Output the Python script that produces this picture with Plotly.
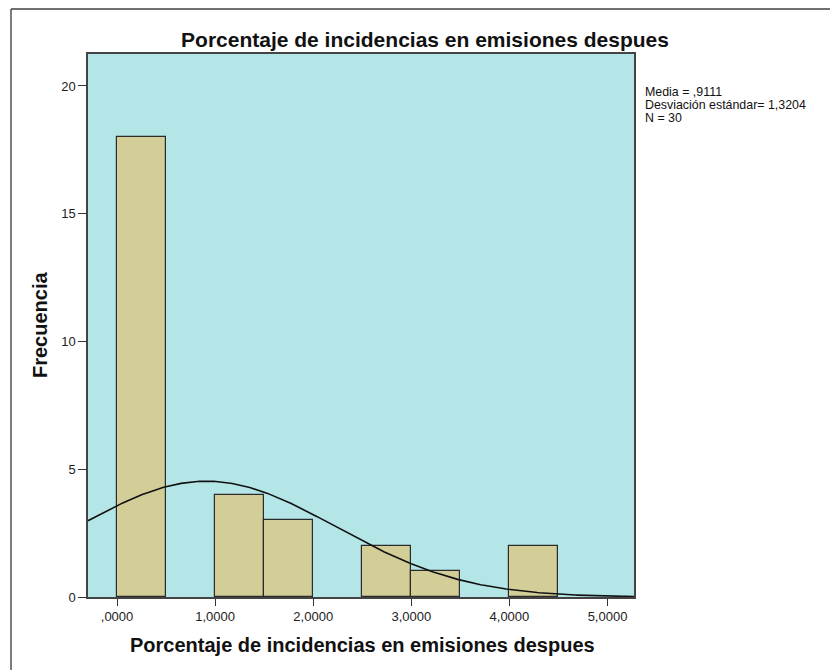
import numpy as np
import plotly.graph_objects as go

# Data
bin_left = [0.0, 0.5, 1.0, 1.5, 2.0, 2.5, 3.0, 3.5, 4.0]
counts = [18, 0, 4, 3, 0, 2, 1, 0, 2]
bin_width = 0.5
media = 0.9111
desv = 1.3204
n_total = 30
x_ticks = [0, 1, 2, 3, 4, 5]
x_tick_labels = [",0000", "1,0000", "2,0000", "3,0000", "4,0000", "5,0000"]
y_ticks = [0, 5, 10, 15, 20]
stats_lines = ["Media = ,9111", "Desviación estándar= 1,3204", "N = 30"]

title_text = "Porcentaje de incidencias en emisiones despues"
y_title = "Frecuencia"

FONT = "Liberation Sans, Arial, sans-serif"

# page geometry (the page body has an 8px margin)
OFF = 8
PL, PR, PT, PB = 88, 634, 54, 597
W, H = 838 - OFF, 670 - OFF
PW, PH = PR - PL, PB - PT


def px(X):
    return (X - PL) / PW


def py(Y):
    return (PB - Y) / PH


# only draw non-empty bins
cx = [b + bin_width / 2 for b, c in zip(bin_left, counts) if c > 0]
cy = [c for c in counts if c > 0]

fig = go.Figure()
fig.add_trace(go.Bar(
    x=cx, y=cy, width=bin_width,
    marker=dict(color="#D3CE98", line=dict(color="#2b2b2b", width=1.2)),
    showlegend=False, hoverinfo="skip",
))

xr = [-0.296, 5.27]
xs = np.linspace(xr[0], xr[1], 300)
ys = n_total * bin_width / (desv * np.sqrt(2 * np.pi)) * np.exp(-((xs - media) ** 2) / (2 * desv ** 2))
fig.add_trace(go.Scatter(x=xs, y=ys, mode="lines", line=dict(color="#111111", width=1.6),
                         showlegend=False, hoverinfo="skip"))

fig.update_layout(
    width=W, height=H,
    margin=dict(l=PL - OFF, r=W - (PR - OFF), t=PT - OFF, b=H - (PB - OFF)),
    paper_bgcolor="white", plot_bgcolor="#B4E6E7",
    font=dict(family=FONT, color="#111111"),
    bargap=0,
    title=dict(text="<b>" + title_text + "</b>", x=(425 - OFF) / W, xanchor="center", y=1 - (40 - OFF) / H,
               yanchor="middle", xref="container", yref="container",
               font=dict(size=21, family=FONT, color="#111111")),
    xaxis=dict(range=xr, tickvals=x_ticks, ticktext=x_tick_labels, showgrid=False, zeroline=False,
               ticks="outside", ticklen=7, tickwidth=1.3, tickcolor="#333",
               showline=True, linecolor="#444", linewidth=1.5, mirror=True,
               tickfont=dict(size=13, family=FONT, color="#222")),
    yaxis=dict(range=[0, 21.25], tickvals=y_ticks, showgrid=False, zeroline=False,
               ticks="outside", ticklen=8, tickwidth=1.3, tickcolor="#333",
               showline=True, linecolor="#444", linewidth=1.5, mirror=True,
               tickfont=dict(size=13, family=FONT, color="#222")),
)

# axis titles
fig.add_annotation(xref="paper", yref="paper", x=px(362), y=py(645), xanchor="center", yanchor="middle",
                   showarrow=False, text="<b>" + title_text + "</b>",
                   font=dict(size=20, family=FONT, color="#111"))
fig.add_annotation(xref="paper", yref="paper", x=px(40), y=py(325), xanchor="center", yanchor="middle",
                   showarrow=False, textangle=-90, text="<b>" + y_title + "</b>",
                   font=dict(size=20, family=FONT, color="#111"))

# statistics box
for i, line in enumerate(stats_lines):
    fig.add_annotation(xref="paper", yref="paper", x=px(643), y=py(92 + 13 * i), xanchor="left",
                       yanchor="middle", showarrow=False, text=line,
                       font=dict(size=12.4, family=FONT, color="#111"))

# outer frame (top and left edges, as in the reference)
fig.add_shape(type="line", xref="paper", yref="paper", x0=px(11), x1=px(838),
              y0=py(9), y1=py(9), line=dict(color="#707070", width=2))
fig.add_shape(type="line", xref="paper", yref="paper", x0=px(11), x1=px(11),
              y0=py(9), y1=py(670), line=dict(color="#505050", width=1.5))

fig.write_html("out.html")
